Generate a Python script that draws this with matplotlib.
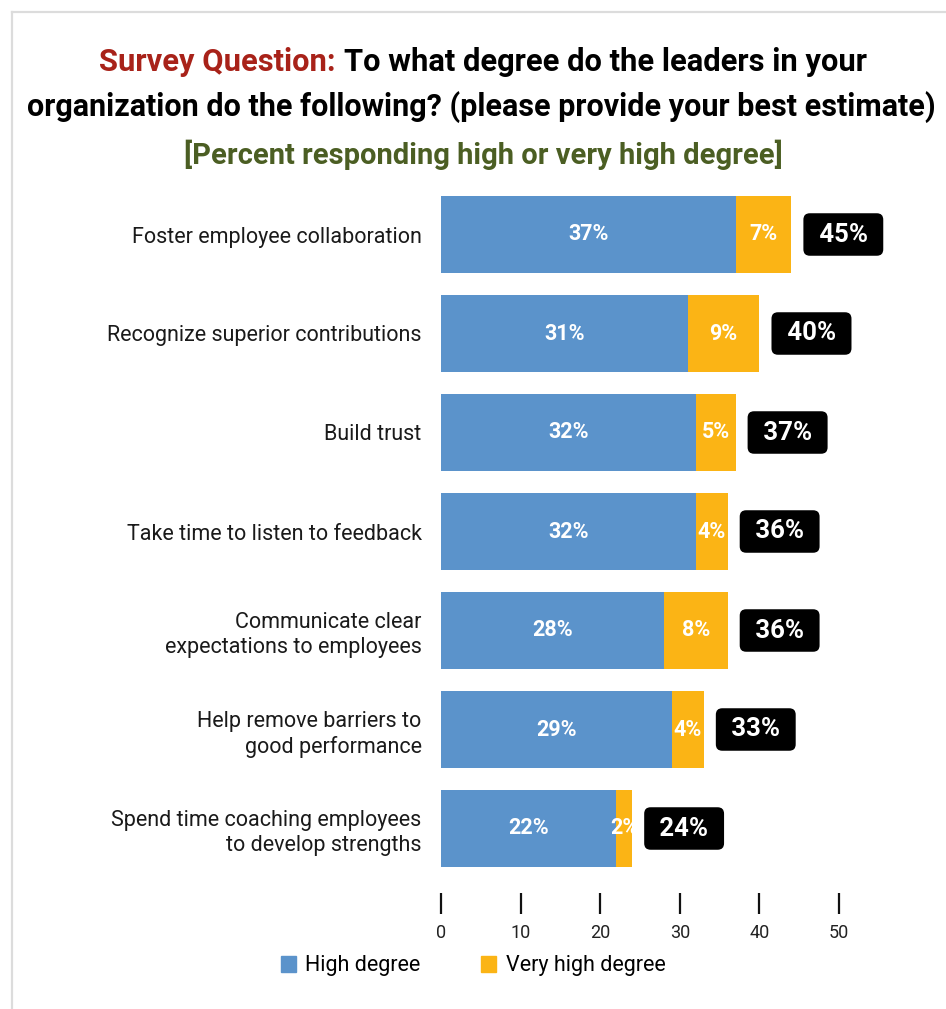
import matplotlib.pyplot as plt
from matplotlib.lines import Line2D

plt.rcParams['font.family'] = ['Roboto', 'DejaVu Sans']

# Survey results, percent of respondents
categories = [
    "Foster employee collaboration",
    "Recognize superior contributions",
    "Build trust",
    "Take time to listen to feedback",
    "Communicate clear\nexpectations to employees",
    "Help remove barriers to\ngood performance",
    "Spend time coaching employees\nto develop strengths",
]
high = [37, 31, 32, 32, 28, 29, 22]
very_high = [7, 9, 5, 4, 8, 4, 2]
totals = [45, 40, 37, 36, 36, 33, 24]
xticks = [0, 10, 20, 30, 40, 50]

blue = "#5B93CB"
orange = "#FBB415"

W, H = 946, 1009
fig = plt.figure(figsize=(W / 100, H / 100), dpi=100)

# axes placed in pixel coordinates
left, right, top, bottom = 441, 839, 185, 878
ax = fig.add_axes([left / W, 1 - bottom / H, (right - left) / W, (bottom - top) / H])

ypos = list(range(len(categories)))
ax.barh(ypos, high, height=0.78, color=blue)
ax.barh(ypos, very_high, left=high, height=0.78, color=orange)

for y, h, v, t in zip(ypos, high, very_high, totals):
    ax.text(h / 2, y, f"{h}%", ha="center", va="center", color="white",
            fontsize=15.5, fontweight="bold")
    ax.text(h + v / 2, y, f"{v}%", ha="center", va="center", color="white",
            fontsize=15.5, fontweight="bold")
    ax.annotate(f" {t}% ", xy=(h + v, y), xytext=(37.5, 0), textcoords="offset points",
                ha="center", va="center", color="white", fontsize=18.5, fontweight="bold",
                annotation_clip=False,
                bbox=dict(boxstyle="round,pad=0.36,rounding_size=0.25", fc="black", ec="none"))

ax.set_xlim(0, 50)
ax.set_ylim(len(categories) - 0.5, -0.5)
ax.set_xticks(xticks)
ax.set_yticks(ypos)
ax.set_yticklabels(categories, fontsize=15.5, color="#1a1a1a", linespacing=1.25)
ax.tick_params(axis="y", length=0, pad=14)
ax.tick_params(axis="x", length=15, width=1.6, color="#111111", labelsize=13,
               labelcolor="#222222", pad=7)
for s in ax.spines.values():
    s.set_visible(False)
ax.spines["bottom"].set_position(("outward", 11))

# light frame along top and left
fig.add_artist(Line2D([12 / W, 12 / W], [0, 1 - 12 / H], color="#dcdcdc", lw=1.6))
fig.add_artist(Line2D([12 / W, 1], [1 - 12 / H, 1 - 12 / H], color="#dcdcdc", lw=1.6))

# title: red lead-in, black question text
renderer = fig.canvas.get_renderer()
lead = fig.text(0, 1 - 62 / H, "Survey Question: ", color="#A82219", fontsize=22.2,
                fontweight="bold", va="center", ha="left")
rest = fig.text(0, 1 - 62 / H, "To what degree do the leaders in your", color="black",
                fontsize=22.2, fontweight="bold", va="center", ha="left")
w1 = lead.get_window_extent(renderer).width
w2 = rest.get_window_extent(renderer).width
x0 = (483 - (w1 + w2) / 2) / W
lead.set_x(x0)
rest.set_x(x0 + w1 / W)

fig.text(481 / W, 1 - 107 / H,
         "organization do the following? (please provide your best estimate)",
         color="black", fontsize=22, fontweight="bold", ha="center", va="center")
fig.text(483 / W, 1 - 155 / H, "[Percent responding high or very high degree]",
         color="#4B5E23", fontsize=21, fontweight="bold", ha="center", va="center")

# legend
fig.legend(handles=[plt.Rectangle((0, 0), 1, 1, color=blue),
                    plt.Rectangle((0, 0), 1, 1, color=orange)],
           labels=["High degree", "Very high degree"], loc="center",
           bbox_to_anchor=(473 / W, 1 - 966 / H), ncol=2, frameon=False,
           fontsize=15.5, handlelength=0.7, handleheight=0.7, handletextpad=0.45,
           columnspacing=2.8)

fig.savefig("out.png", dpi=100, facecolor="white")
